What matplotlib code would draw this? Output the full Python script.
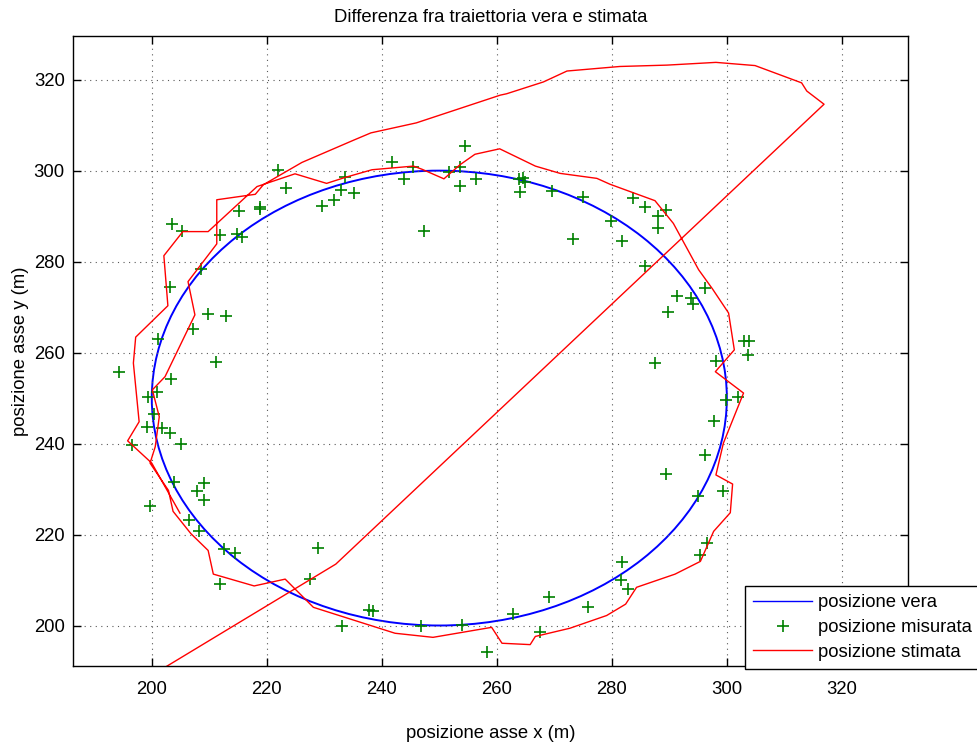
#!/usr/bin/env python3
"""Differenza fra traiettoria vera e stimata (MATLAB-style tracking plot)."""

import matplotlib

matplotlib.use("Agg")
import matplotlib.pyplot as plt
from matplotlib.lines import Line2D
from matplotlib.patches import Circle

plt.rcParams["font.family"] = ["Liberation Sans", "DejaVu Sans"]
plt.rcParams["font.size"] = 13.3

# true trajectory: circle
true_center = (250.0, 250.0)
true_radius = 50.0

# measured positions
meas_x = [222.0, 223.3, 215.1, 218.8, 218.9, 203.5, 205.2, 211.9, 214.8, 215.7,
          208.6, 203.1, 209.7, 212.9, 207.2, 201.0, 211.1, 194.3, 203.4, 200.9,
          199.4, 200.3, 199.1, 201.7, 203.2, 205.0, 196.5, 203.9, 209.1, 207.9,
          209.1, 199.7, 206.4, 208.2, 212.5, 214.4, 211.8, 228.9, 227.5, 237.8,
          238.5, 233.0, 246.8, 253.9, 258.3, 262.8, 269.1, 275.9, 267.5, 281.7,
          281.6, 282.8, 296.5, 295.4, 299.4, 294.9, 289.4, 296.2, 297.7, 299.9,
          302.0, 287.5, 298.1, 302.9, 303.8, 303.6, 289.8, 293.8, 294.2, 291.4,
          296.2, 285.7, 288.0, 288.1, 289.4, 285.8, 283.7, 281.8, 279.9, 273.3,
          275.0, 269.6, 264.1, 263.8, 264.6, 264.9, 256.3, 253.6, 253.6, 251.6,
          254.4, 247.4, 245.5, 243.9, 241.7, 235.1, 233.6, 232.9, 231.7, 229.6]
meas_y = [300.2, 296.1, 291.1, 291.6, 292.0, 288.2, 286.8, 285.9, 286.1, 285.4,
          278.4, 274.4, 268.5, 268.1, 265.1, 262.9, 258.0, 255.8, 254.2, 251.3,
          250.3, 246.5, 243.6, 243.4, 242.3, 239.9, 239.6, 231.5, 231.4, 229.6,
          227.5, 226.2, 223.1, 220.8, 216.9, 216.0, 209.2, 217.1, 210.2, 203.4,
          203.2, 199.8, 199.8, 200.2, 194.2, 202.6, 206.2, 204.0, 198.6, 213.9,
          209.9, 208.0, 218.1, 215.4, 229.5, 228.5, 233.3, 237.4, 244.9, 249.5,
          250.3, 257.8, 258.2, 262.6, 262.6, 259.4, 268.9, 272.0, 270.7, 272.5,
          274.2, 279.1, 287.5, 290.0, 291.4, 292.0, 293.9, 284.6, 288.9, 285.0,
          294.3, 295.6, 295.4, 298.1, 298.3, 297.6, 298.1, 296.6, 300.9, 299.8,
          305.4, 286.8, 300.9, 298.1, 302.0, 295.0, 298.5, 295.8, 293.6, 292.2]

# estimated positions
est_x = [196.0, 232.0, 316.9, 313.9, 313.0, 304.9, 298.1, 289.6, 281.4, 272.2,
         268.1, 261.7, 260.6, 246.0, 238.1, 235.1, 226.1, 219.4, 218.0, 211.3,
         211.3, 206.3, 207.5, 202.3, 200.1, 201.3, 200.6, 199.7, 202.9, 203.7,
         206.8, 209.8, 210.7, 217.8, 223.2, 228.1, 242.3, 248.9, 259.1, 260.9,
         265.8, 266.7, 272.7, 279.1, 282.4, 284.3, 291.0, 295.4, 297.7, 300.6,
         301.0, 298.1, 299.4, 302.9, 298.0, 301.3, 300.3, 297.5, 295.1, 290.7,
         287.5, 279.7, 277.4, 271.0, 266.7, 260.5, 256.2, 253.6, 250.8, 247.0,
         245.5, 238.3, 233.6, 230.4, 224.9, 218.3, 209.8, 205.4, 202.1, 202.8,
         197.2, 196.8, 197.8, 195.8, 200.0, 204.9]
est_y = [186.0, 213.5, 314.6, 317.5, 319.3, 323.1, 323.8, 323.2, 322.9, 321.9,
         319.5, 316.9, 316.6, 310.5, 308.3, 306.7, 301.8, 296.9, 294.8, 293.6,
         283.9, 275.6, 268.3, 254.7, 251.8, 245.9, 239.3, 235.7, 229.7, 225.1,
         220.2, 216.5, 211.3, 208.7, 210.2, 204.0, 198.3, 197.4, 199.6, 196.1,
         195.8, 197.6, 199.4, 202.2, 204.7, 208.4, 211.3, 214.1, 220.7, 224.8,
         231.1, 233.1, 240.1, 251.1, 255.8, 260.6, 268.7, 274.0, 278.2, 288.4,
         293.4, 297.0, 298.3, 299.4, 301.0, 304.8, 303.6, 301.3, 298.2, 300.3,
         301.0, 300.2, 298.5, 297.2, 299.3, 296.5, 286.6, 286.6, 281.3, 270.3,
         263.4, 257.7, 244.8, 240.6, 235.7, 224.7]

x_ticks = [200, 220, 240, 260, 280, 300, 320]
y_ticks = [200, 220, 240, 260, 280, 300, 320]
x_limits = (186.3, 331.5)
y_limits = (191.1, 329.6)

fig = plt.figure(figsize=(9.77, 7.46), dpi=100)
ax = fig.add_axes([73 / 977, 80 / 746, 835 / 977, 630 / 746])

ax.add_patch(Circle(true_center, true_radius, fill=False, edgecolor="#0000ff", linewidth=1.4))
ax.plot(meas_x, meas_y, linestyle="none", marker="+", markersize=9, markeredgewidth=1.2, color="#008000")
ax.plot(est_x, est_y, color="#ff0000", linewidth=1.0)

ax.set_xlim(*x_limits)
ax.set_ylim(*y_limits)
ax.set_xticks(x_ticks)
ax.set_yticks(y_ticks)
ax.tick_params(direction="in", length=6, width=1, top=True, right=True)
ax.tick_params(axis="x", pad=11)
ax.tick_params(axis="y", pad=6)
ax.grid(True, linestyle=(0, (1, 4)), color="0.35", linewidth=0.8)
for spine in ax.spines.values():
    spine.set_linewidth(1.0)

ax.set_title("Differenza fra traiettoria vera e stimata", fontsize=13.3, pad=10)
ax.set_xlabel("posizione asse x (m)", labelpad=19)
ax.set_ylabel("posizione asse y (m)", labelpad=3)

handles = [
    Line2D([], [], color="#0000ff", linewidth=1.0),
    Line2D([], [], linestyle="none", marker="+", markersize=9, markeredgewidth=1.2, color="#008000"),
    Line2D([], [], color="#ff0000", linewidth=1.0),
]
labels = ["posizione vera", "posizione misurata", "posizione stimata"]
leg = fig.legend(handles, labels, loc="upper left", bbox_to_anchor=(745 / 977, 1 - 586 / 746),
                 fancybox=False, framealpha=1, edgecolor="black", handlelength=3.2,
                 handletextpad=0.3, borderpad=0.45, labelspacing=0.42, borderaxespad=0)
leg.get_frame().set_linewidth(1.0)

fig.savefig("out.png", dpi=100)
